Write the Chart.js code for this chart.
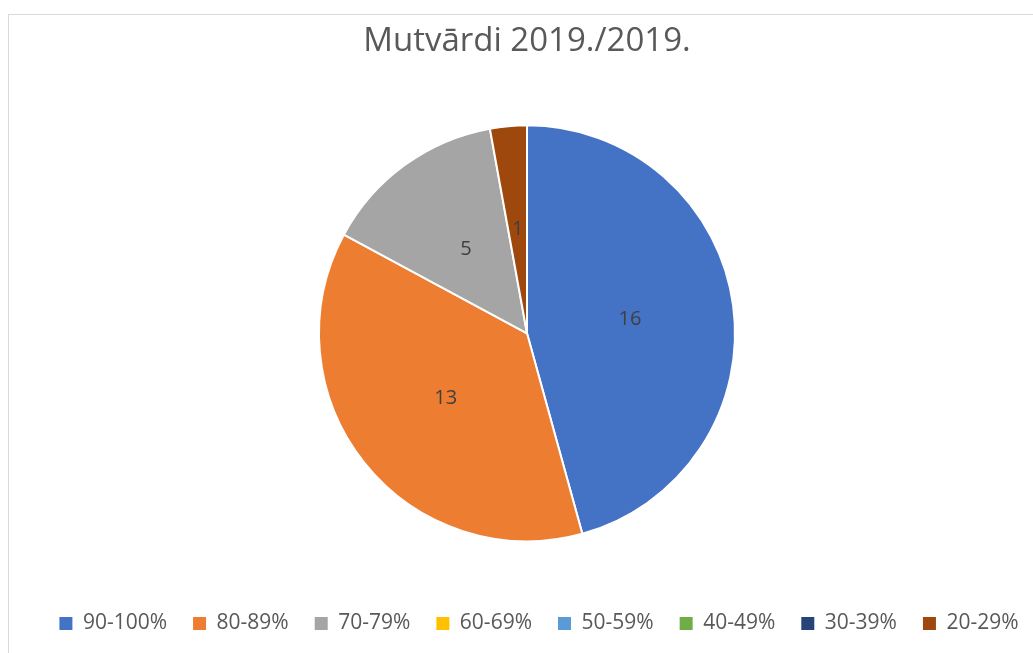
<!DOCTYPE html>
<html>
<head>
<meta charset="utf-8">
<title>Mutvārdi 2019./2019.</title>
<script src="https://cdn.jsdelivr.net/npm/chart.js@4"></script>
<style>
  html, body { margin: 0; padding: 0; background: #fff; overflow: hidden; }
  #frame {
    position: absolute; left: 8px; top: 14px; width: 1100px; height: 700px;
    border-left: 1px solid #d9d9d9; border-top: 1px solid #d9d9d9;
  }
  #chart { position: absolute; left: 0; top: 0; }
</style>
</head>
<body>
<div id="frame"></div>
<canvas id="chart" width="1033" height="653"></canvas>
<script>
const title = "Mutvārdi 2019./2019.";
const categories = ["90-100%", "80-89%", "70-79%", "60-69%", "50-59%", "40-49%", "30-39%", "20-29%"];
const counts = [16, 13, 5, 0, 0, 0, 0, 1];
const colors = ["#4472C4", "#ED7D31", "#A5A5A5", "#FFC000", "#5B9BD5", "#70AD47", "#264478", "#9E480E"];

const textGray = "#595959";
const fontName = "'Open Sans', 'Noto Sans', sans-serif";

// value labels in the middle of each slice
const sliceLabels = {
    id: "sliceLabels",
    afterDatasetsDraw(chart) {
        const ctx = chart.ctx;
        const meta = chart.getDatasetMeta(0);
        ctx.save();
        ctx.font = "20px " + fontName;
        ctx.fillStyle = "#404040";
        ctx.textAlign = "center";
        ctx.textBaseline = "middle";
        meta.data.forEach((arc, i) => {
            if (!counts[i]) return;
            const p = arc.tooltipPosition();
            ctx.fillText(String(counts[i]), p.x, p.y);
        });
        ctx.restore();
    }
};

// legend sits a bit right of the pie centre in the original
const legendShift = {
    id: "legendShift",
    afterLayout(chart) {
        chart.legend.left += 12;
        chart.legend.right += 12;
    }
};

new Chart(document.getElementById("chart"), {
    type: "pie",
    data: {
        labels: categories,
        datasets: [{
            data: counts,
            backgroundColor: colors,
            borderColor: "#ffffff",
            borderWidth: 2,
            radius: 208
        }]
    },
    options: {
        responsive: false,
        animation: false,
        layout: { padding: { left: 21, right: 0, top: 0, bottom: 9 } },
        plugins: {
            title: {
                display: true,
                text: title,
                color: textGray,
                font: { family: fontName, size: 33, weight: "normal", lineHeight: 1.2 },
                padding: { top: 22, bottom: 18 }
            },
            legend: {
                position: "bottom",
                labels: {
                    color: textGray,
                    font: { family: fontName, size: 21 },
                    boxWidth: 13,
                    boxHeight: 13,
                    padding: 26,
                    generateLabels(chart) {
                        return Chart.overrides.pie.plugins.legend.labels.generateLabels(chart)
                            .map(l => Object.assign(l, { lineWidth: 0 }));
                    }
                }
            },
            tooltip: { enabled: false }
        }
    },
    plugins: [sliceLabels, legendShift]
});
</script>
</body>
</html>
